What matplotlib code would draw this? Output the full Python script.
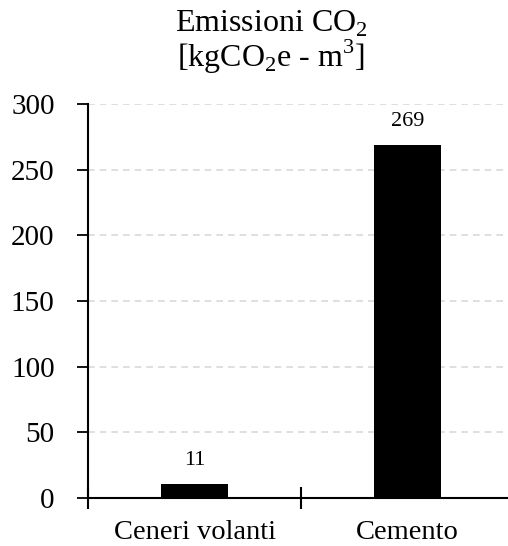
import matplotlib
matplotlib.use("Agg")
import matplotlib.pyplot as plt
import numpy as np

categories = ["Ceneri volanti", "Cemento"]
values = [11, 269]
yticks = [0, 50, 100, 150, 200, 250, 300]

plt.rcParams['font.family'] = ['Liberation Serif', 'DejaVu Serif']
plt.rcParams['mathtext.fontset'] = 'custom'
plt.rcParams['mathtext.rm'] = 'Liberation Serif'

W, H = 508, 546
fig = plt.figure(figsize=(W/100, H/100), dpi=100)
ax = fig.add_axes([88/W, (H-498)/H, (514-88)/W, (498-104)/H])

x = np.arange(len(categories))
bars = ax.bar(x, values, width=0.31, color='black', zorder=3)
for xi, v in zip(x, values):
    ax.annotate(str(v), (xi, v), xytext=(0, 10), textcoords='offset points',
                ha='center', va='bottom', fontsize=16)

ax.set_xlim(-0.5, 1.5)
ax.set_ylim(0, 300)
ax.set_yticks(yticks)
ax.set_yticklabels([str(t) for t in yticks], fontsize=21)
ax.set_xticks(x)
ax.set_xticklabels(categories, fontsize=20.5)
ax.tick_params(axis='x', which='major', length=0, pad=16)
ax.set_xticks([-0.5, 0.5, 1.5], minor=True)
ax.tick_params(axis='x', which='minor', direction='inout', length=16, width=1.5)
ax.tick_params(axis='y', direction='out', length=8, width=1.3, pad=16)

for s in ['top', 'right']:
    ax.spines[s].set_visible(False)
for s in ['left', 'bottom']:
    ax.spines[s].set_linewidth(1.5)

ax.yaxis.grid(True, linestyle=(0, (4, 3)), color='#d9d9d9', linewidth=1.2, zorder=0)
ax.set_axisbelow(True)

fig.text(271/W, 1 - 32/H, r"Emissioni CO$_2$", ha='center', va='baseline', fontsize=23)
fig.text(271/W, 1 - 67/H, r"[kgCO$_2$e - m$^3$]", ha='center', va='baseline', fontsize=23)

fig.savefig("out.png", dpi=100)
